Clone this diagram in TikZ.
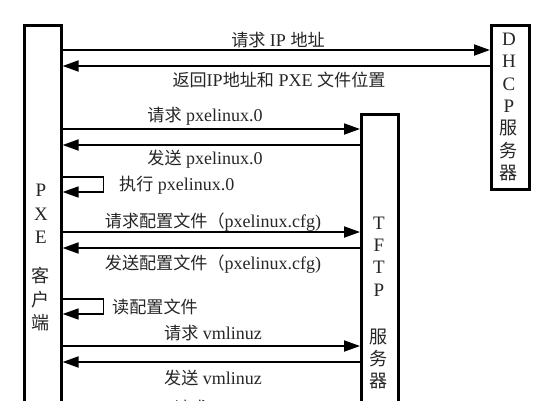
\documentclass[tikz,border=0pt]{standalone}
\usepackage{fontspec}
\setmainfont{Liberation Serif}
\newfontfamily\cjk{Noto Sans CJK SC}[Scale=0.95]
\usetikzlibrary{arrows.meta}
\newcommand\zh[1]{{\cjk #1}}
\begin{document}
\begin{tikzpicture}[x=1pt,y=-1pt,
  font=\fontsize{18}{20}\selectfont,
  box/.style={draw=black, line width=2.6pt, fill=white, inner sep=0pt, anchor=north west},
  msg/.style={line width=1.9pt, -{Triangle[length=16pt,width=11pt]}},
  lbl/.style={inner sep=0pt, text=black!85},
  vlbl/.style={inner sep=0pt, align=center, text=black!85, font=\fontsize{19}{22.3}\selectfont}]
\useasboundingbox (0,0) rectangle (536,400);
\fill[white] (0,0) rectangle (536,400);
% boxes
\node[box, minimum width=37pt, minimum height=420pt] (client) at (23,24) {};
\node[box, minimum width=38pt, minimum height=164pt] (dhcp) at (490,24) {};
\node[box, minimum width=37pt, minimum height=320pt] (tftp) at (360,113) {};
% box labels
\node[vlbl, font=\fontsize{19}{23.5}\selectfont] (clientlbl) at (41,258) {P\\X\\E\\[15.5pt]\zh{客}\\\zh{户}\\\zh{端}};
\node[vlbl] (dhcplbl) at (509,107) {D\\H\\C\\P\\\zh{服}\\\zh{务}\\\zh{器}};
\node[vlbl] (tftplbl) at (379,303) {T\\F\\T\\P\\[25pt]\zh{服}\\\zh{务}\\\zh{器}};
% message levels
\coordinate (m1) at (0,50);
\coordinate (m2) at (0,66);
\coordinate (m3) at (0,129);
\coordinate (m4) at (0,145);
\coordinate (s1a) at (0,177);
\coordinate (s1b) at (0,192);
\coordinate (m6) at (0,232);
\coordinate (m7) at (0,248);
\coordinate (s2a) at (0,299);
\coordinate (s2b) at (0,314);
\coordinate (m9) at (0,346);
\coordinate (m10) at (0,362);
% arrows
\draw[msg] (client.east |- m1) -- (dhcp.west |- m1);
\draw[msg] (dhcp.west |- m2) -- (client.east |- m2);
\draw[msg] (client.east |- m3) -- (tftp.west |- m3);
\draw[msg] (tftp.west |- m4) -- (client.east |- m4);
\draw[msg, line width=1.6pt] (client.east |- s1a) -- ++(41,0) |- (client.east |- s1b);
\draw[msg] (client.east |- m6) -- (tftp.west |- m6);
\draw[msg] (tftp.west |- m7) -- (client.east |- m7);
\draw[msg, line width=1.6pt] (client.east |- s2a) -- ++(41,0) |- (client.east |- s2b);
\draw[msg] (client.east |- m9) -- (tftp.west |- m9);
\draw[msg] (tftp.west |- m10) -- (client.east |- m10);
% labels
\node[lbl] (t1) at (278,40) {\zh{请求} IP \zh{地址}};
\node[lbl] (t2) at (279,80) {\zh{返回}IP\zh{地址和} PXE \zh{文件位置}};
\node[lbl] (t3) at (205,116) {\zh{请求} pxelinux.0};
\node[lbl] (t4) at (205,159) {\zh{发送} pxelinux.0};
\node[lbl, anchor=west] (t5) at (119,185) {\zh{执行} pxelinux.0};
\node[lbl] (t6) at (213,222) {\zh{请求配置文件（}pxelinux.cfg)};
\node[lbl] (t7) at (213,264) {\zh{发送配置文件（}pxelinux.cfg)};
\node[lbl, anchor=west] (t8) at (112,307) {\zh{读配置文件}};
\node[lbl] (t9) at (213,333) {\zh{请求} vmlinuz};
\node[lbl] (t10) at (213,378) {\zh{发送} vmlinuz};
\node[lbl] (t11) at (213,408) {\zh{请求} initrd};
\end{tikzpicture}
\end{document}
